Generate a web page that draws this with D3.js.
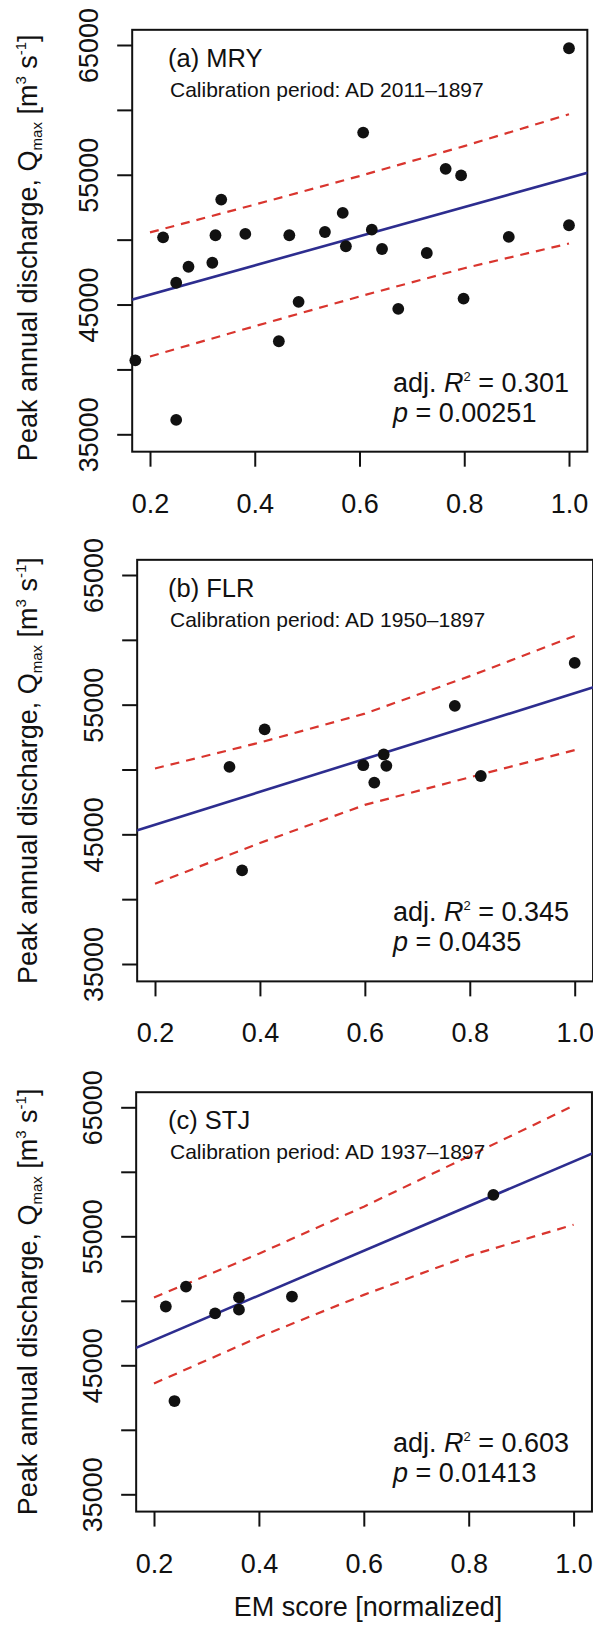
<!DOCTYPE html>
<html><head><meta charset="utf-8">
<script src="https://cdn.jsdelivr.net/npm/d3@7"></script>
<style>
html,body{margin:0;padding:0;background:#fff;}
svg{display:block;font-family:"Liberation Sans",Arial,Helvetica,sans-serif;}
</style></head><body>
<svg id="chart" width="593" height="1625"></svg>
<script>
// ---------------- data ----------------
const panelLetters = ["(a)", "(b)", "(c)"];
const sites = ["MRY", "FLR", "STJ"];
const periods = ["AD 2011–1897", "AD 1950–1897", "AD 1937–1897"];
const adjR2 = ["0.301", "0.345", "0.603"];
const pValues = ["0.00251", "0.0435", "0.01413"];

const xTicks = [0.2, 0.4, 0.6, 0.8, 1.0];
const xTickLabels = ["0.2", "0.4", "0.6", "0.8", "1.0"];
const yTicks = [35000, 40000, 45000, 50000, 55000, 60000, 65000];
const yTickLabels = ["35000", "", "45000", "", "55000", "", "65000"];

// EM score (normalized) and peak discharge Qmax
const emMRY = [1.00, 0.607, 0.7645, 0.794, 0.336, 0.568, 0.225, 0.325, 0.382, 0.466, 0.534, 0.6235, 0.574,
               0.643, 0.7285, 0.885, 1.00, 0.2735, 0.319, 0.250, 0.4837, 0.674, 0.7987, 0.446, 0.172, 0.250];
const qMRY  = [64750, 58250, 55460, 54950, 53090, 52060, 50180, 50340, 50440, 50340, 50590, 50770, 49490,
               49280, 48970, 50210, 51110, 47910, 48220, 46680, 45210, 44670, 45460, 42170, 40700, 36110];
const emFLR = [1.00, 0.7715, 0.409, 0.342, 0.597, 0.636, 0.641, 0.618, 0.821, 0.366];
const qFLR  = [58220, 54910, 53100, 50200, 50330, 51160, 50280, 48990, 49500, 42220];
const emSTJ = [0.847, 0.261, 0.2225, 0.3165, 0.362, 0.362, 0.463, 0.239];
const qSTJ  = [58210, 51100, 49560, 49030, 50260, 49310, 50330, 42230];

// regression lines (values read at x = 0.1 and 1.1)
const fitX = [0.1, 1.1];
const fitMRY = [44645, 55885];
const fitFLR = [44472, 57157];
const fitSTJ = [45217, 62539];

// prediction intervals
const piX = [0.2, 0.4, 0.6, 0.8, 1.0];
const piUpMRY = [50560, 52700, 54900, 57210, 59660];
const piLoMRY = [41000, 43330, 45620, 47800, 49700];
const piUpFLR = [50080, 52080, 54310, 57200, 60300];
const piLoFLR = [41190, 44330, 47270, 49400, 51500];
const piUpSTJ = [50260, 53650, 57300, 61200, 65130];
const piLoSTJ = [43590, 47180, 50460, 53480, 55900];

const panelData = [
  {em: emMRY, q: qMRY, fit: fitMRY, up: piUpMRY, lo: piLoMRY},
  {em: emFLR, q: qFLR, fit: fitFLR, up: piUpFLR, lo: piLoFLR},
  {em: emSTJ, q: qSTJ, fit: fitSTJ, up: piUpSTJ, lo: piLoSTJ}
];

// ---------------- layout ----------------
const layout = [
  {x0: 150, x1: 569,   y65: 45,     y35: 434.3, titleShift: 7},
  {x0: 155, x1: 574.7, y65: 575,    y35: 964,   titleShift: 0},
  {x0: 154, x1: 573.6, y65: 1107.3, y35: 1494.3, titleShift: 0}
];
const xExt = [0.166, 1.035];
const yExt = [33660, 66170];
const BLUE = "#2d2d8f", RED = "#d9352e", INK = "#111";
const TICK_FS = 27;

const svg = d3.select("#chart");

layout.forEach((L, i) => {
  const D = panelData[i];
  const x = d3.scaleLinear().domain([0.2, 1.0]).range([L.x0, L.x1]);
  const y = d3.scaleLinear().domain([35000, 65000]).range([L.y35, L.y65]);
  const left = x(xExt[0]), right = x(xExt[1]), top = y(yExt[1]), bottom = y(yExt[0]);

  const g = svg.append("g");
  const clipId = "clip" + i;
  g.append("clipPath").attr("id", clipId)
    .append("rect").attr("x", left).attr("y", top).attr("width", right - left).attr("height", bottom - top);

  // y axis
  const ya = g.append("g").attr("transform", `translate(${left},0)`)
    .call(d3.axisLeft(y).tickValues(yTicks).tickSize(15).tickFormat((d, k) => yTickLabels[k]));
  ya.select(".domain").remove();
  ya.selectAll(".tick line").attr("stroke", INK).attr("stroke-width", 2);
  ya.selectAll(".tick text")
    .attr("transform", "rotate(-90)")
    .attr("x", 0).attr("y", -34).attr("dy", null)
    .attr("text-anchor", "middle")
    .attr("fill", INK)
    .style("font-size", TICK_FS + "px")
    .style("font-family", "'Liberation Sans', Arial, sans-serif");

  // x axis
  const xa = g.append("g").attr("transform", `translate(0,${bottom})`)
    .call(d3.axisBottom(x).tickValues(xTicks).tickSize(15).tickFormat((d, k) => xTickLabels[k]));
  xa.select(".domain").remove();
  xa.selectAll(".tick line").attr("stroke", INK).attr("stroke-width", 2);
  xa.selectAll(".tick text")
    .attr("y", 61).attr("dy", null)
    .attr("fill", INK)
    .style("font-size", TICK_FS + "px")
    .style("font-family", "'Liberation Sans', Arial, sans-serif");

  // box
  g.append("rect").attr("x", left).attr("y", top).attr("width", right - left).attr("height", bottom - top)
    .attr("fill", "none").attr("stroke", INK).attr("stroke-width", 2);

  // lines
  const lg = g.append("g").attr("clip-path", `url(#${clipId})`);
  const line = d3.line().x(d => x(d[0])).y(d => y(d[1]));
  lg.append("path").attr("d", line(fitX.map((v, k) => [v, D.fit[k]])))
    .attr("fill", "none").attr("stroke", BLUE).attr("stroke-width", 2.6);
  [D.up, D.lo].forEach(arr => {
    lg.append("path").attr("d", line(piX.map((v, k) => [v, arr[k]])))
      .attr("fill", "none").attr("stroke", RED).attr("stroke-width", 2.2)
      .attr("stroke-dasharray", "9,7");
  });

  // points
  g.append("g").selectAll("circle").data(D.em.map((v, k) => [v, D.q[k]])).join("circle")
    .attr("cx", d => x(d[0])).attr("cy", d => y(d[1])).attr("r", 5.9).attr("fill", INK);

  // panel title
  g.append("text").attr("x", 168).attr("y", top + 37)
    .style("font-size", "25.5px").attr("fill", INK)
    .text(panelLetters[i] + " " + sites[i]);
  g.append("text").attr("x", 170).attr("y", top + 67)
    .style("font-size", "21px").attr("fill", INK)
    .text("Calibration period: " + periods[i]);

  // stats annotation
  const t1 = g.append("text").attr("x", 393).attr("y", bottom - 60)
    .style("font-size", "27px").attr("fill", INK);
  t1.append("tspan").text("adj. ");
  t1.append("tspan").style("font-style", "italic").text("R");
  t1.append("tspan").attr("dy", -11).style("font-size", "13px").text("2");
  t1.append("tspan").attr("dy", 11).text(" = " + adjR2[i]);
  const t2 = g.append("text").attr("x", 393).attr("y", bottom - 30)
    .style("font-size", "27px").attr("fill", INK);
  t2.append("tspan").style("font-style", "italic").text("p");
  t2.append("tspan").text(" = " + pValues[i]);

  // y axis title
  const cy = (top + bottom) / 2 + L.titleShift;
  const yt = g.append("text").attr("transform", `translate(37,${cy}) rotate(-90)`)
    .attr("text-anchor", "middle").style("font-size", "27px").attr("fill", INK);
  yt.append("tspan").text("Peak annual discharge, Q");
  yt.append("tspan").attr("dy", 5).style("font-size", "15px").text("max");
  yt.append("tspan").attr("dy", -5).text(" [m");
  yt.append("tspan").attr("dy", -11).style("font-size", "15px").text("3");
  yt.append("tspan").attr("dy", 11).text(" s");
  yt.append("tspan").attr("dy", -11).style("font-size", "15px").text("-1");
  yt.append("tspan").attr("dy", 11).text("]");

  if (i === 2) {
    g.append("text").attr("x", 368).attr("y", 1616).attr("text-anchor", "middle")
      .style("font-size", "27px").attr("fill", INK).text("EM score [normalized]");
  }
});
</script>
</body></html>
